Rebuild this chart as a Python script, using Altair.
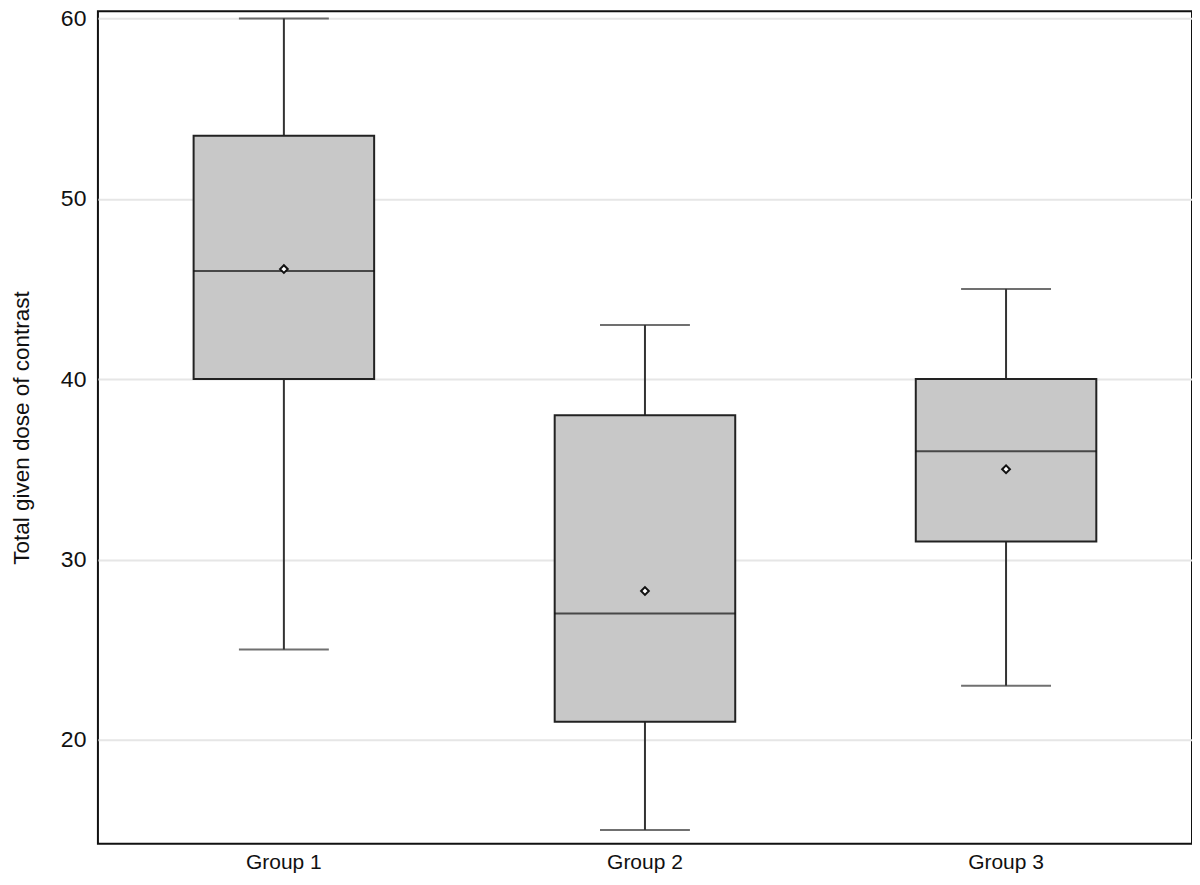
import altair as alt
import pandas as pd

groups = ["Group 1", "Group 2", "Group 3"]
whisker_low = [25, 15, 23]
q1 = [40, 21, 31]
median = [46, 27, 36]
q3 = [53.5, 38, 40]
whisker_high = [60, 43, 45]
mean = [46.1, 28.25, 35.0]

df = pd.DataFrame({
    "group": groups, "lo": whisker_low, "q1": q1, "med": median,
    "q3": q3, "hi": whisker_high, "mean": mean,
})

FONT = "Liberation Sans"
x_axis = alt.Axis(labelAngle=0, labelFontSize=21, labelColor="#111",
                  labelFont=FONT, ticks=False, domain=False, labelPadding=8, grid=False)
x = alt.X("group:N", title=None, sort=groups,
          scale=alt.Scale(paddingInner=0.5, paddingOuter=0.265), axis=x_axis)
yscale = alt.Scale(domain=[14.24, 60.39], nice=False, zero=False)
y_axis = alt.Axis(values=[20, 30, 40, 50, 60], labelFontSize=23, labelColor="#111",
                  labelFont=FONT, ticks=False, domain=False, labelPadding=12,
                  grid=True, gridColor="#e6e6e6", gridWidth=2,
                  title="Total given dose of contrast", titleFont=FONT,
                  titleFontSize=22.5, titleFontWeight="normal", titleColor="#111",
                  titlePadding=27)


def Y(field):
    return alt.Y(field, scale=yscale, axis=y_axis, title="Total given dose of contrast")


base = alt.Chart(df)

whisk_low = base.mark_rule(color="#333", strokeWidth=2).encode(
    x=x, y=Y("lo:Q"), y2="q1:Q")
whisk_high = base.mark_rule(color="#333", strokeWidth=2).encode(
    x=x, y=Y("q3:Q"), y2="hi:Q")
cap_low = base.mark_tick(color="#333", size=90, thickness=2).encode(
    x=x, y=Y("lo:Q"))
cap_high = base.mark_tick(color="#333", size=90, thickness=2).encode(
    x=x, y=Y("hi:Q"))
box = base.mark_bar(fill="#c8c8c8", stroke="#222", strokeWidth=2).encode(
    x=x, y=Y("q1:Q"), y2="q3:Q")
med = base.mark_tick(color="#111", size=181, thickness=2).encode(
    x=x, y=Y("med:Q"))
mn = base.mark_point(shape="diamond", filled=True, fill="white", stroke="#111",
                     strokeWidth=2, size=60, opacity=1).encode(
    x=x, y=Y("mean:Q"))

chart = alt.layer(whisk_low, whisk_high, cap_low, cap_high, box, med, mn).properties(
    width=1095, height=833,
    background="white",
    autosize=alt.AutoSizeParams(type="none"),
    padding={"left": 90, "top": 3, "right": 0, "bottom": 41},
).configure_view(stroke="#111", strokeWidth=2)

chart.save("out.html", embed_options={"renderer": "svg", "actions": False})
